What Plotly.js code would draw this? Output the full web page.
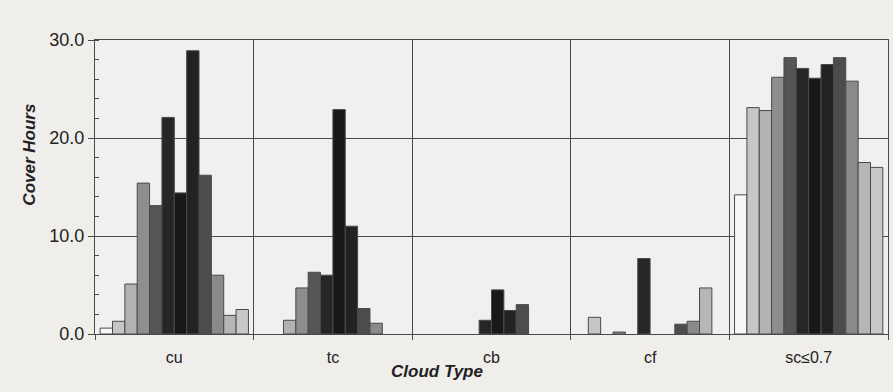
<!DOCTYPE html>
<html><head><meta charset="utf-8">
<script src="https://cdn.plot.ly/plotly-3.0.1.min.js"></script>
<style>html,body{margin:0;padding:0;background:#efeeeb;} #chart{width:893px;height:392px;}</style>
</head><body><div id="chart"></div>
<script>
// Categories (cloud types) and monthly series (values per category; null = no bar)
const categories = ["cu", "tc", "cb", "cf", "sc≤0.7"];
const seriesNames = ["Jan","Feb","Mar","Apr","May","Jun","Jul","Aug","Sep","Oct","Nov","Dec"];
const jan = [0.6, null, null, null, 14.2];
const feb = [1.3, null, null, 1.7, 23.1];
const mar = [5.1, 1.4, null, null, 22.8];
const apr = [15.4, 4.7, null, 0.2, 26.2];
const may = [13.1, 6.3, null, null, 28.2];
const jun = [22.1, 6.0, 1.4, 7.7, 27.1];
const jul = [14.4, 22.9, 4.5, null, 26.1];
const aug = [28.9, 11.0, 2.4, null, 27.5];
const sep = [16.2, 2.6, 3.0, 1.0, 28.2];
const oct = [6.0, 1.1, null, 1.3, 25.8];
const nov = [1.9, null, null, 4.7, 17.5];
const dec = [2.5, null, null, null, 17.0];
const seriesValues = [jan, feb, mar, apr, may, jun, jul, aug, sep, oct, nov, dec];
const barColors = ["#f7f7f5","#c6c6c4","#b2b2b0","#8e8e8c","#555553","#262626","#181818","#222222","#4c4c4a","#8a8a88","#b6b6b4","#c8c8c6"];
const yTickVals = [0, 10, 20, 30];
const yTickText = ["0.0", "10.0", "20.0", "30.0"];

const traces = seriesValues.map((vals, i) => ({
  type: "bar",
  name: seriesNames[i],
  x: categories,
  y: vals,
  marker: {color: barColors[i], line: {color: "#4a4a4a", width: 1}},
  hoverinfo: "skip"
}));

const font = "'Liberation Sans', Arial, Helvetica, sans-serif";
const layout = {
  width: 893, height: 392,
  margin: {l: 95, r: 5, t: 40, b: 58},
  paper_bgcolor: "#efeeeb",
  plot_bgcolor: "#f1f0ee",
  barmode: "group",
  bargap: 0.065,
  bargroupgap: 0,
  showlegend: false,
  font: {family: font, color: "#222"},
  xaxis: {
    type: "category",
    tickson: "boundaries",
    showgrid: true, gridcolor: "#4a4a4a", gridwidth: 1,
    ticks: "outside", ticklen: 5, tickcolor: "#4a4a4a",
    ticklabelstandoff: 9,
    showline: true, linecolor: "#4a4a4a", linewidth: 1, mirror: true,
    tickfont: {family: font, size: 16, color: "#222"},
    zeroline: false
  },
  yaxis: {
    range: [0, 30],
    tickvals: yTickVals, ticktext: yTickText,
    showgrid: true, gridcolor: "#4a4a4a", gridwidth: 1,
    ticks: "outside", ticklen: 6, tickcolor: "#4a4a4a",
    minor: {dtick: 2, ticks: "inside", ticklen: 4, tickcolor: "#4a4a4a", showgrid: false},
    showline: true, linecolor: "#4a4a4a", linewidth: 1, mirror: true,
    tickfont: {family: font, size: 18, color: "#222"},
    zeroline: false
  },
  annotations: [
    {text: "<b><i>Cover Hours</i></b>", xref: "paper", yref: "paper", x: -0.082, y: 0.61,
     xanchor: "center", yanchor: "middle",
     textangle: -90, showarrow: false, font: {family: font, size: 17, color: "#222"}},
    {text: "<b><i>Cloud Type</i></b>", xref: "paper", yref: "paper", x: 0.431, y: -0.129,
     xanchor: "center", yanchor: "middle",
     showarrow: false, font: {family: font, size: 17, color: "#222"}}
  ]
};

Plotly.newPlot("chart", traces, layout, {displayModeBar: false, staticPlot: true});
</script>
</body></html>
